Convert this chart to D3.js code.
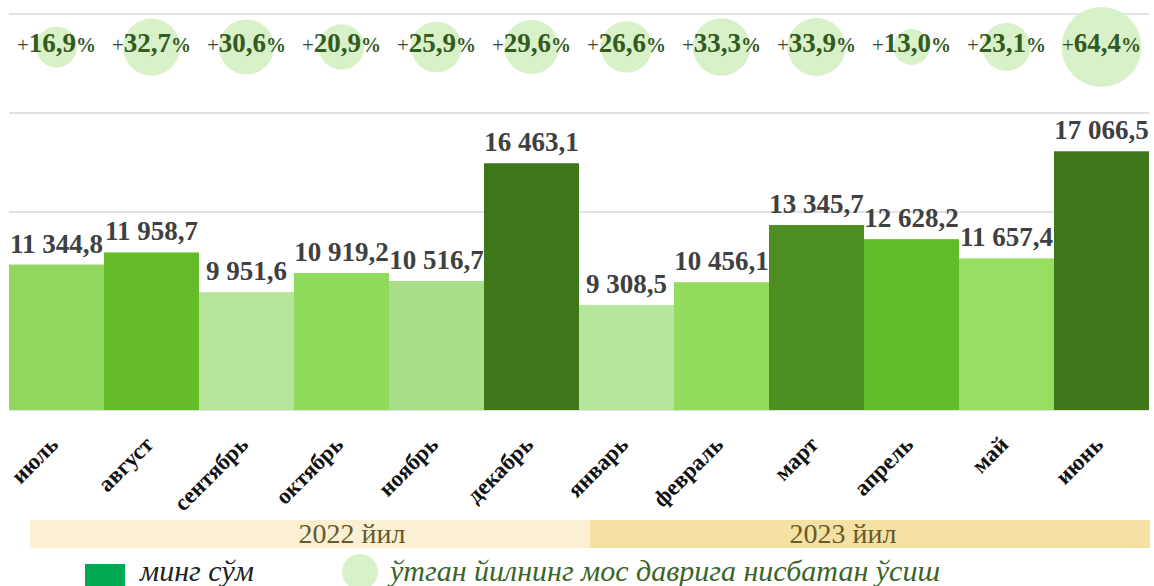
<!DOCTYPE html>
<html>
<head>
<meta charset="utf-8">
<script src="https://cdn.jsdelivr.net/npm/d3@7"></script>
<style>
  html, body { margin: 0; padding: 0; background: #ffffff; }
  svg { display: block; }
</style>
</head>
<body>
<svg id="chart" width="1154" height="586"></svg>
<script>
// ---- data ----
const months = ["июль", "август", "сентябрь", "октябрь", "ноябрь", "декабрь",
                "январь", "февраль", "март", "апрель", "май", "июнь"];
const values = [11344.8, 11958.7, 9951.6, 10919.2, 10516.7, 16463.1,
                9308.5, 10456.1, 13345.7, 12628.2, 11657.4, 17066.5];
const growth = [16.9, 32.7, 30.6, 20.9, 25.9, 29.6, 26.6, 33.3, 33.9, 13.0, 23.1, 64.4];
const years = ["2022 йил", "2023 йил"];
const yearMonths = [6, 6];
const gridTicks = [4000, 9000, 14000, 19000, 24000];
const legendLabels = ["минг сўм", "ўтган йилнинг мос даврига нисбатан ўсиш"];

// ---- styles ----
const barColors = ["#92d85e", "#64bc28", "#b5e599", "#90db5b", "#a9df89", "#3e7719",
                   "#b6e69c", "#93dc5e", "#4e8f24", "#63bc29", "#97de62", "#3e761a"];
const yearColors = ["#fbf0d3", "#f6e1a5"];
const serif = "'Liberation Serif', 'Times New Roman', serif";
const fmt = v => {
  const s = v.toFixed(1).replace(".", ",");
  const [i, d] = s.split(",");
  return i.replace(/\B(?=(\d{3})+(?!\d))/g, " ") + "," + d;
};

const svg = d3.select("#chart");

const x = d3.scaleBand().domain(months).range([9, 1149]).padding(0);
const y = d3.scaleLinear().domain([4000, 24000]).range([410, 14]);
const r = d3.scaleSqrt().domain([0, d3.max(growth)]).range([0, 40]);

// gridlines
svg.append("g").selectAll("line").data(gridTicks).join("line")
  .attr("x1", 9).attr("x2", 1149)
  .attr("y1", d => y(d)).attr("y2", d => y(d))
  .attr("stroke", "#d9d9d9").attr("stroke-width", 1.5);

// bars
svg.append("g").selectAll("rect").data(values).join("rect")
  .attr("x", (d, i) => x(months[i]))
  .attr("y", d => y(d))
  .attr("width", x.bandwidth())
  .attr("height", d => y(4000) - y(d))
  .attr("fill", (d, i) => barColors[i]);

// value labels
svg.append("g").selectAll("text").data(values).join("text")
  .attr("x", (d, i) => x(months[i]) + x.bandwidth() / 2)
  .attr("y", d => y(d) - 12)
  .attr("text-anchor", "middle")
  .attr("font-family", serif)
  .attr("font-weight", "bold")
  .attr("font-size", 27)
  .attr("fill", "#404040")
  .text(d => fmt(d));

// bubbles
const bubbleY = 47;
svg.append("g").selectAll("circle").data(growth).join("circle")
  .attr("cx", (d, i) => x(months[i]) + x.bandwidth() / 2)
  .attr("cy", bubbleY)
  .attr("r", d => r(d))
  .attr("fill", "#d9f1c9");

const bl = svg.append("g").selectAll("text").data(growth).join("text")
  .attr("x", (d, i) => x(months[i]) + x.bandwidth() / 2)
  .attr("y", bubbleY + 5)
  .attr("text-anchor", "middle")
  .attr("font-family", serif)
  .attr("font-weight", "bold")
  .attr("fill", "#335a1f");
bl.append("tspan").attr("font-size", 21).attr("font-weight", "normal").attr("fill", "#3a4a30").text("+");
bl.append("tspan").attr("font-size", 27).text(d => d.toFixed(1).replace(".", ","));
bl.append("tspan").attr("font-size", 20).text("%");

// category labels
svg.append("g").selectAll("text").data(months).join("text")
  .attr("transform", d => `translate(${x(d) + x.bandwidth() / 2 + 3},446) rotate(-45)`)
  .attr("text-anchor", "end")
  .attr("font-family", serif)
  .attr("font-weight", "bold")
  .attr("font-size", 23)
  .attr("fill", "#111")
  .text(d => d);

// year bands
const bandTop = 520, bandH = 28;
let startIdx = 0;
const yearBands = yearMonths.map((n, k) => {
  const b = { label: years[k], i0: startIdx, i1: startIdx + n - 1 };
  startIdx += n;
  return b;
});
const bandX = [30, 590, 1150];
const textX = [352, 843];
svg.append("g").selectAll("rect").data(yearBands).join("rect")
  .attr("x", (d, k) => bandX[k])
  .attr("y", bandTop)
  .attr("width", (d, k) => bandX[k + 1] - bandX[k])
  .attr("height", bandH)
  .attr("fill", (d, k) => yearColors[k]);
svg.append("g").selectAll("text").data(yearBands).join("text")
  .attr("x", (d, k) => textX[k])
  .attr("y", bandTop + 23)
  .attr("text-anchor", "middle")
  .attr("font-family", serif)
  .attr("font-size", 28)
  .attr("fill", "#665a2a")
  .text(d => d.label);

// legend
const lg = svg.append("g");
lg.append("rect").attr("x", 85).attr("y", 564).attr("width", 40).attr("height", 24).attr("fill", "#00a84f");
lg.append("text").attr("x", 140).attr("y", 581)
  .attr("font-family", serif).attr("font-style", "italic").attr("font-size", 30)
  .attr("fill", "#222").text(legendLabels[0]);
lg.append("circle").attr("cx", 360).attr("cy", 572).attr("r", 18).attr("fill", "#d9f1c9");
lg.append("text").attr("x", 390).attr("y", 581)
  .attr("font-family", serif).attr("font-style", "italic").attr("font-size", 30)
  .attr("fill", "#3b6428").text(legendLabels[1]);
</script>
</body>
</html>
